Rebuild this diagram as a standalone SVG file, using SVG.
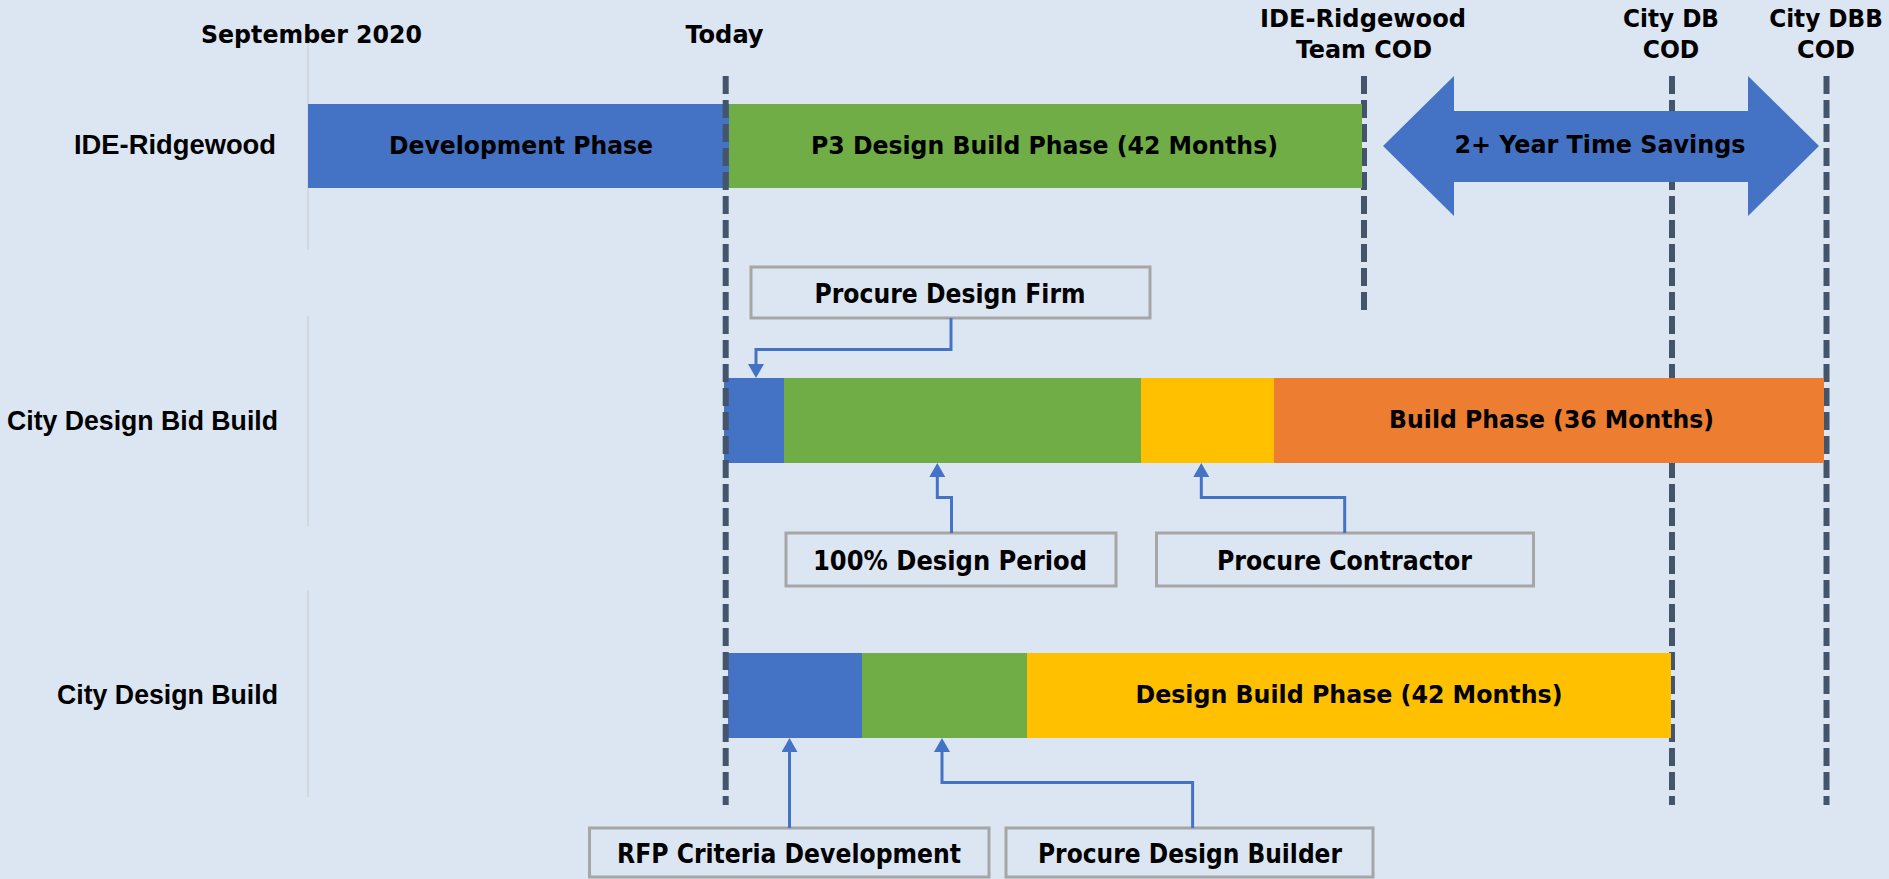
<svg xmlns="http://www.w3.org/2000/svg" width="1889" height="879" viewBox="0 0 1889 879">
<defs>
<style>
.t{font-family:"DejaVu Sans Condensed","DejaVu Sans",sans-serif;font-weight:bold;fill:#000;text-anchor:middle}
.h{font-size:24px}
.b{font-size:24px}
.l{font-size:26px}
.r{font-family:"Liberation Sans",Arial,sans-serif;font-weight:bold;font-size:28px;fill:#000;text-anchor:end}
.dash{stroke:#44546a;stroke-width:6;stroke-dasharray:18 6;fill:none}
.faint{stroke:#d3d8df;stroke-width:2}
.box{fill:none;stroke:#a6a6a6;stroke-width:3}
.conn{fill:none;stroke:#4472c4;stroke-width:3}
</style>
<marker id="ah" viewBox="0 0 14 16" refX="0" refY="8" markerWidth="14" markerHeight="16" markerUnits="userSpaceOnUse" orient="auto">
<path d="M0,0 L14,8 L0,16 z" fill="#4472c4"/>
</marker>
</defs>
<rect x="0" y="0" width="1889" height="879" fill="#dce6f2"/>

<g id="gridlines">
<line class="faint" x1="308" y1="43" x2="308" y2="250"/>
<line class="faint" x1="308" y1="316" x2="308" y2="526"/>
<line class="faint" x1="308" y1="590" x2="308" y2="797"/>
<line class="dash" x1="1364" y1="76" x2="1364" y2="310"/>
<line class="dash" x1="1672" y1="76" x2="1672" y2="805"/>
<line class="dash" x1="1826.5" y1="76" x2="1826.5" y2="805"/>
</g>

<g id="headers">
<text class="t h" x="311.5" y="43" textLength="221" lengthAdjust="spacingAndGlyphs">September 2020</text>
<text class="t h" x="724.6" y="43" textLength="78" lengthAdjust="spacingAndGlyphs">Today</text>
<text class="t h" x="1363" y="27" textLength="206" lengthAdjust="spacingAndGlyphs">IDE-Ridgewood</text>
<text class="t h" x="1364" y="58" textLength="136" lengthAdjust="spacingAndGlyphs">Team COD</text>
<text class="t h" x="1671" y="27" textLength="96" lengthAdjust="spacingAndGlyphs">City DB</text>
<text class="t h" x="1671" y="58" textLength="56.5" lengthAdjust="spacingAndGlyphs">COD</text>
<text class="t h" x="1826" y="27" textLength="113.6" lengthAdjust="spacingAndGlyphs">City DBB</text>
<text class="t h" x="1826" y="58" textLength="58" lengthAdjust="spacingAndGlyphs">COD</text>
</g>

<g id="row-labels">
<text class="r" x="276" y="154" textLength="202" lengthAdjust="spacingAndGlyphs">IDE-Ridgewood</text>
<text class="r" x="278" y="430" textLength="271" lengthAdjust="spacingAndGlyphs">City Design Bid Build</text>
<text class="r" x="278" y="704" textLength="221" lengthAdjust="spacingAndGlyphs">City Design Build</text>
</g>

<g id="row-ide">
<rect x="308" y="104" width="421" height="84" fill="#4472c4"/>
<rect x="729" y="104" width="633" height="84" fill="#70ad47"/>
<text class="t b" x="521" y="154" textLength="264" lengthAdjust="spacingAndGlyphs">Development Phase</text>
<text class="t b" x="1044.5" y="154" textLength="467" lengthAdjust="spacingAndGlyphs">P3 Design Build Phase (42 Months)</text>
</g>

<g id="time-savings">
<polygon points="1383,146 1454,76 1454,111 1748,111 1748,76 1819,146 1748,216 1748,182 1454,182 1454,216" fill="#4472c4"/>
<text class="t b" x="1600" y="153" textLength="291" lengthAdjust="spacingAndGlyphs">2+ Year Time Savings</text>
</g>

<g id="row-dbb">
<rect x="724" y="378" width="60" height="85" fill="#4472c4"/>
<rect x="784" y="378" width="357" height="85" fill="#70ad47"/>
<rect x="1141" y="378" width="133" height="85" fill="#ffc000"/>
<rect x="1274" y="378" width="550" height="85" fill="#ed7d31"/>
<text class="t b" x="1551.6" y="428" textLength="325" lengthAdjust="spacingAndGlyphs">Build Phase (36 Months)</text>
</g>

<g id="row-db">
<rect x="728" y="653" width="134" height="85" fill="#4472c4"/>
<rect x="862" y="653" width="165" height="85" fill="#70ad47"/>
<rect x="1027" y="653" width="644" height="85" fill="#ffc000"/>
<text class="t b" x="1349" y="703" textLength="427" lengthAdjust="spacingAndGlyphs">Design Build Phase (42 Months)</text>
</g>

<g id="today-line">
<line class="dash" x1="725.7" y1="76" x2="725.7" y2="805"/>
</g>

<g id="box-procure-design-firm">
<rect class="box" x="751" y="267" width="399" height="51"/>
<text class="t l" x="950" y="303" textLength="271" lengthAdjust="spacingAndGlyphs">Procure Design Firm</text>
</g>
<g id="box-100-design">
<rect class="box" x="786" y="533" width="330" height="53"/>
<text class="t l" x="950" y="570" textLength="274" lengthAdjust="spacingAndGlyphs">100% Design Period</text>
</g>
<g id="box-procure-contractor">
<rect class="box" x="1156.5" y="533" width="377" height="53"/>
<text class="t l" x="1344.5" y="570" textLength="255" lengthAdjust="spacingAndGlyphs">Procure Contractor</text>
</g>
<g id="box-rfp">
<rect class="box" x="589.5" y="828" width="399.5" height="49"/>
<text class="t l" x="789" y="863" textLength="344" lengthAdjust="spacingAndGlyphs">RFP Criteria Development</text>
</g>
<g id="box-procure-design-builder">
<rect class="box" x="1006" y="828" width="367" height="49"/>
<text class="t l" x="1190" y="863" textLength="304" lengthAdjust="spacingAndGlyphs">Procure Design Builder</text>
</g>

<g id="connectors">
<path class="conn" d="M951,318 V349.5 H756 V364" marker-end="url(#ah)"/>
<path class="conn" d="M951.5,533 V497.5 H937.3 V477" marker-end="url(#ah)"/>
<path class="conn" d="M1344.7,533 V497.5 H1201.3 V477" marker-end="url(#ah)"/>
<path class="conn" d="M789.5,828 V752" marker-end="url(#ah)"/>
<path class="conn" d="M1192.6,828 V782.5 H942 V752" marker-end="url(#ah)"/>
</g>
</svg>
